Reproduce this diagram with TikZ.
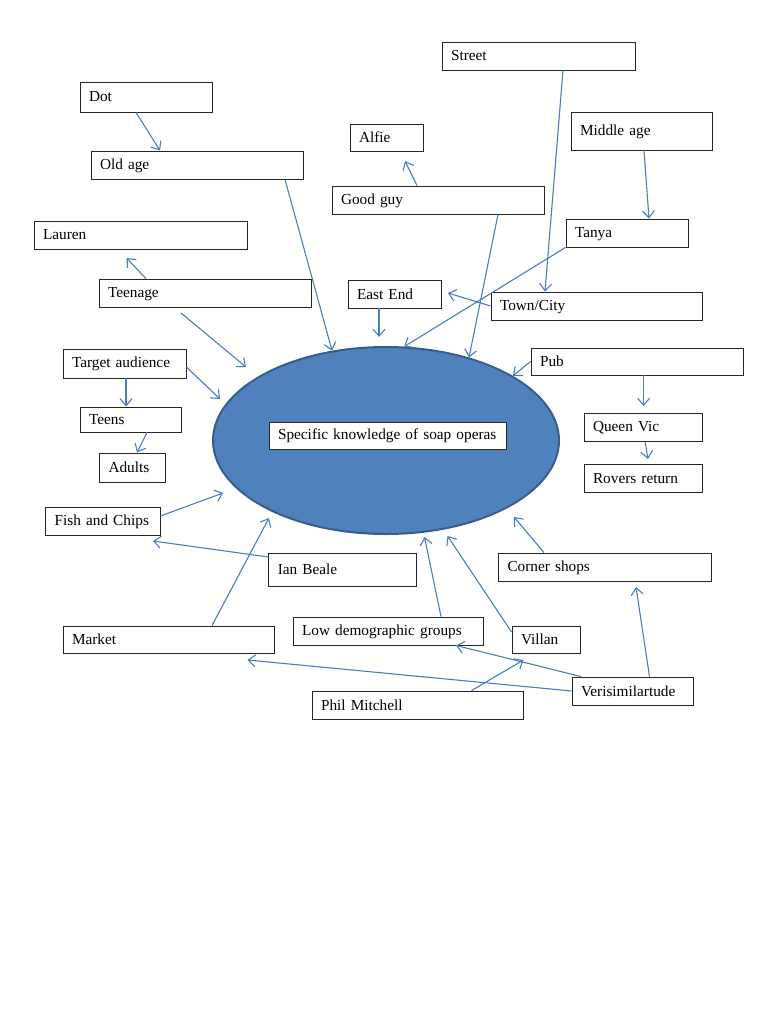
\documentclass[tikz,border=0pt]{standalone}
\usepackage{fontspec}
\setmainfont{Liberation Serif}
\usetikzlibrary{arrows.meta}
\usetikzlibrary{shapes.geometric}
\definecolor{soapblue}{RGB}{79,129,189}
\definecolor{soapedge}{RGB}{56,93,138}
\definecolor{linkblue}{RGB}{74,126,187}
\hyphenpenalty=10000
\tikzset{
  box/.style 2 args={draw=black!85, fill=white, line width=0.9pt, inner xsep=9pt, inner ysep=0pt,
    text width=#1, minimum height=#2,
    execute at begin node={\hbox\bgroup\vrule height 12pt depth 2pt width 0pt},
    execute at end node={\egroup}},
  link/.style={draw=linkblue, line width=1.1pt, -{Straight Barb[length=7pt,width=12pt]}}
}
\begin{document}
\begin{tikzpicture}[x=1pt, y=-1pt, font=\fontsize{15.3}{18}\selectfont]
  \useasboundingbox (0,0) rectangle (768,1024);

  \node[ellipse, draw=soapedge, fill=soapblue, line width=2pt, minimum width=346pt,
        minimum height=187pt, inner sep=0pt] (Soap) at (386,440.5) {};
  \node[box={219pt}{27pt}] (Specific) at (387.5,435.5) {Specific knowledge of soap operas};

  % left side
  \node[box={114pt}{30pt}] (Dot)      at (146,97)      {Dot};
  \node[box={194pt}{28pt}] (OldAge)   at (197,165)     {Old age};
  \node[box={195pt}{28pt}] (Lauren)   at (140.5,235)   {Lauren};
  \node[box={194pt}{28pt}] (Teenage)  at (205,293)     {Teenage};
  \node[box={105pt}{29pt}] (Target)   at (124.5,363.5) {Target audience};
  \node[box={83pt}{25pt}]  (Teens)    at (130.5,419.5) {Teens};
  \node[box={47.5pt}{29pt}] (Adults)  at (132.25,467.5) {Adults};
  \node[box={96.4pt}{28pt}] (Fish)    at (102.8,521)   {Fish and Chips};
  \node[box={130pt}{33pt}] (IanBeale) at (342.8,569.5) {Ian Beale};
  \node[box={193.5pt}{27pt}] (Market) at (168.75,639.5) {Market};

  % bottom
  \node[box={172pt}{28pt}] (LowDemo)  at (388,631)     {Low demographic groups};
  \node[box={50pt}{27pt}]  (Villan)   at (546,639.5)   {Villan};
  \node[box={193.5pt}{28pt}] (Phil)   at (417.75,705)  {Phil Mitchell};
  \node[box={103pt}{28pt}] (Veri)     at (632.5,691)   {Verisimilartude};
  \node[box={194.5pt}{28pt}] (Corner) at (604.75,567)  {Corner shops};

  % right side
  \node[box={100pt}{28pt}] (Rovers)   at (643,478)     {Rovers return};
  \node[box={100pt}{28pt}] (QueenVic) at (643,427)     {Queen Vic};
  \node[box={194pt}{27pt}] (Pub)      at (637,361.5)   {Pub};
  \node[box={193pt}{28pt}] (Town)     at (596.5,306)   {Town/City};
  \node[box={104pt}{28pt}] (Tanya)    at (627,233)     {Tanya};
  \node[box={123pt}{38pt}] (Middle)   at (641.5,131)   {Middle age};
  \node[box={175pt}{28pt}] (Street)   at (538.5,56)    {Street};
  \node[box={55pt}{27pt}]  (Alfie)    at (386.5,137.5) {Alfie};
  \node[box={194pt}{28pt}] (GoodGuy)  at (438,200)     {Good guy};
  \node[box={75pt}{28pt}]  (EastEnd)  at (394.5,294)   {East End};

  % free arrow ends
  \coordinate (tLauren)     at (126.5,258);
  \coordinate (sTeenage)    at (181,313);
  \coordinate (tTeenage)    at (246,367);
  \coordinate (tTarget)     at (220,399);
  \coordinate (tFish)       at (223,493);
  \coordinate (tIan)        at (153,541);
  \coordinate (tMarket)     at (269,518);
  \coordinate (tLow)        at (424.5,537);
  \coordinate (tVillan)     at (447.5,536);
  \coordinate (tCorner)     at (514,517);
  \coordinate (tVeriCorner) at (636,587);
  \coordinate (tVeriMarket) at (247.5,660);
  \coordinate (tPhil)       at (523.5,660);
  \coordinate (tEastEnd)    at (379,337);
  \coordinate (tTown)       at (448,293);
  \coordinate (tRovers)     at (648,459);
  \coordinate (tQueenVic)   at (643.6,406);
  \coordinate (tAlfie)      at (405,161);

  \draw[link] (Dot.south -| 136,0) -- (OldAge.north -| 160,0);
  \draw[link] (OldAge.south -| 285,0) -- (Soap.121);
  \draw[link] (Teenage.north -| 146,0) -- (tLauren);
  \draw[link] (sTeenage) -- (tTeenage);
  \draw[link] (Target.south -| 126,0) -- (Teens.north -| 126,0);
  \draw[link] (Target.east |- 0,367) -- (tTarget);
  \draw[link] (Teens.south -| 147,0) -- (Adults.north -| 137,0);
  \draw[link] (Fish.east |- 0,516) -- (tFish);
  \draw[link] (IanBeale.west |- 0,557) -- (tIan);
  \draw[link] (Market.north -| 212,0) -- (tMarket);
  \draw[link] (LowDemo.north -| 441,0) -- (tLow);
  \draw[link] (Villan.west |- 0,632) -- (tVillan);
  \draw[link] (Corner.north -| 544,0) -- (tCorner);
  \draw[link] (Veri.north -| 649.5,0) -- (tVeriCorner);
  \draw[link] (Veri.west) -- (tVeriMarket);
  \draw[link] (Veri.north -| 581,0) -- (LowDemo.south -| 456,0);
  \draw[link] (Phil.north -| 471.5,0) -- (tPhil);
  \draw[link] (Pub.west) -- (Soap.27.6);
  \draw[link] (Pub.south -| 643.6,0) -- (tQueenVic);
  \draw[link] (QueenVic.south -| 645,0) -- (tRovers);
  \draw[link] (Town.west) -- (tTown);
  \draw[link] (EastEnd.south -| 379,0) -- (tEastEnd);
  \draw[link] (Tanya.south west) -- (Soap.79.2);
  \draw[link] (Street.south -| 563,0) -- (Town.north -| 545,0);
  \draw[link] (Middle.south -| 644,0) -- (Tanya.north -| 649,0);
  \draw[link] (GoodGuy.south -| 498,0) -- (Soap.45.5);
  \draw[link] (GoodGuy.north -| 417,0) -- (tAlfie);
\end{tikzpicture}
\end{document}
